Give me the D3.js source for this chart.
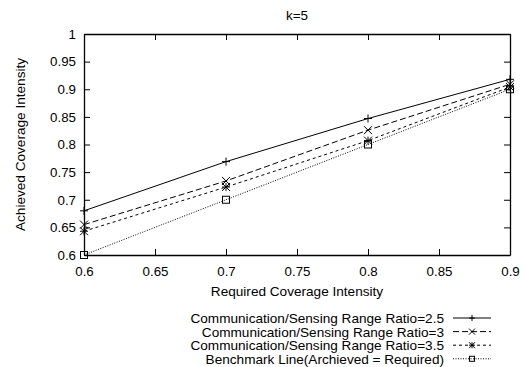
<!DOCTYPE html>
<html>
<head>
<meta charset="utf-8">
<script src="https://cdn.jsdelivr.net/npm/d3@7"></script>
<style>
  body { margin: 0; background: #fff; }
  svg { display: block; font-family: "Liberation Sans", Arial, Helvetica, sans-serif; }
</style>
</head>
<body>
<svg id="chart" width="526" height="367"></svg>
<script>
'use strict';

// data
var required = [0.6, 0.7, 0.8, 0.9];
var ratio25 = [0.68, 0.769, 0.847, 0.918];
var ratio3 = [0.655, 0.734, 0.826, 0.909];
var ratio35 = [0.643, 0.723, 0.807, 0.904];
var benchmark = [0.6, 0.7, 0.8, 0.9];
var seriesNames = [
  'Communication/Sensing Range Ratio=2.5',
  'Communication/Sensing Range Ratio=3',
  'Communication/Sensing Range Ratio=3.5',
  'Benchmark Line(Archieved = Required)'
];
var xTicks = [0.6, 0.65, 0.7, 0.75, 0.8, 0.85, 0.9];
var yTicks = [0.6, 0.65, 0.7, 0.75, 0.8, 0.85, 0.9, 0.95, 1];

var series = [
  { name: seriesNames[0], values: ratio25, dash: null, marker: 'plus' },
  { name: seriesNames[1], values: ratio3, dash: '6,3', marker: 'cross' },
  { name: seriesNames[2], values: ratio35, dash: '3,3', marker: 'star' },
  { name: seriesNames[3], values: benchmark, dash: '1,1.5', marker: 'square' }
];

var svg = d3.select('#chart');
var margin = { left: 84, right: 16, top: 34, bottom: 112 };
var W = 526, H = 367;

var x = d3.scaleLinear().domain([0.6, 0.9]).range([margin.left, W - margin.right]);
var y = d3.scaleLinear().domain([0.6, 1]).range([H - margin.bottom, margin.top]);

var fmt = function (d) { return String(+d.toFixed(2)); };

// axes with inward ticks, mirrored
svg.append('g')
  .attr('transform', 'translate(0,' + y(0.6) + ')')
  .call(d3.axisBottom(x).tickValues(xTicks).tickFormat(fmt).tickSizeInner(-6).tickSizeOuter(0).tickPadding(11.5));
svg.append('g')
  .attr('transform', 'translate(0,' + y(1) + ')')
  .call(d3.axisTop(x).tickValues(xTicks).tickFormat('').tickSizeInner(-6).tickSizeOuter(0));
svg.append('g')
  .attr('transform', 'translate(' + x(0.6) + ',0)')
  .call(d3.axisLeft(y).tickValues(yTicks).tickFormat(fmt).tickSizeInner(-6).tickSizeOuter(0).tickPadding(8));
svg.append('g')
  .attr('transform', 'translate(' + x(0.9) + ',0)')
  .call(d3.axisRight(y).tickValues(yTicks).tickFormat('').tickSizeInner(-6).tickSizeOuter(0));

svg.selectAll('.tick line').attr('stroke', '#000').attr('stroke-width', 1);
svg.selectAll('.domain').attr('stroke', '#000').attr('stroke-width', 1.3);
svg.selectAll('.tick text').attr('font-size', 13.3).attr('fill', '#000')
  .attr('font-family', '"Liberation Sans", Arial, sans-serif');

function drawMarker(g, type, cx, cy, s) {
  if (type === 'plus') {
    g.append('path').attr('d', 'M' + (cx - s) + ',' + cy + 'H' + (cx + s) + 'M' + cx + ',' + (cy - s) + 'V' + (cy + s));
  } else if (type === 'cross') {
    g.append('path').attr('d', 'M' + (cx - s) + ',' + (cy - s) + 'L' + (cx + s) + ',' + (cy + s) +
      'M' + (cx - s) + ',' + (cy + s) + 'L' + (cx + s) + ',' + (cy - s));
  } else if (type === 'star') {
    g.append('path').attr('d', 'M' + (cx - s) + ',' + cy + 'H' + (cx + s) + 'M' + cx + ',' + (cy - s) + 'V' + (cy + s) +
      'M' + (cx - s) + ',' + (cy - s) + 'L' + (cx + s) + ',' + (cy + s) +
      'M' + (cx - s) + ',' + (cy + s) + 'L' + (cx + s) + ',' + (cy - s));
  } else {
    g.append('rect').attr('x', cx - s + 0.5).attr('y', cy - s + 0.5)
      .attr('width', 2 * s - 1).attr('height', 2 * s - 1).attr('fill', 'none');
  }
}

var line = d3.line()
  .x(function (d, i) { return x(required[i]); })
  .y(function (d) { return y(d); });

var plot = svg.append('g');
series.forEach(function (s) {
  var g = plot.append('g').attr('stroke', '#000').attr('fill', 'none');
  g.append('path')
    .attr('d', line(s.values))
    .attr('stroke-width', 1)
    .attr('stroke-dasharray', s.dash);
  s.values.forEach(function (v, i) {
    drawMarker(g, s.marker, x(required[i]), y(v), 4);
  });
});

// title and axis labels
svg.append('text').attr('x', (x(0.6) + x(0.9)) / 2).attr('y', 20)
  .attr('text-anchor', 'middle').attr('font-size', 13.5).text('k=5');
svg.append('text').attr('x', (x(0.6) + x(0.9)) / 2).attr('y', 295.5)
  .attr('text-anchor', 'middle').attr('font-size', 13.6).text('Required Coverage Intensity');
svg.append('text')
  .attr('transform', 'translate(25,' + ((y(0.6) + y(1)) / 2) + ') rotate(-90)')
  .attr('text-anchor', 'middle').attr('font-size', 13.6).text('Achieved Coverage Intensity');

// legend
var legend = svg.append('g');
series.forEach(function (s, i) {
  var ly = 318 + i * 13.6;
  legend.append('text').attr('x', 444).attr('y', ly + 5)
    .attr('text-anchor', 'end').attr('font-size', 13.6).text(s.name);
  var g = legend.append('g').attr('stroke', '#000').attr('fill', 'none');
  g.append('path').attr('d', 'M453,' + ly + 'H491')
    .attr('stroke-width', 1).attr('stroke-dasharray', s.dash);
  drawMarker(g, s.marker, 472, ly, 3);
});
</script>
</body>
</html>
